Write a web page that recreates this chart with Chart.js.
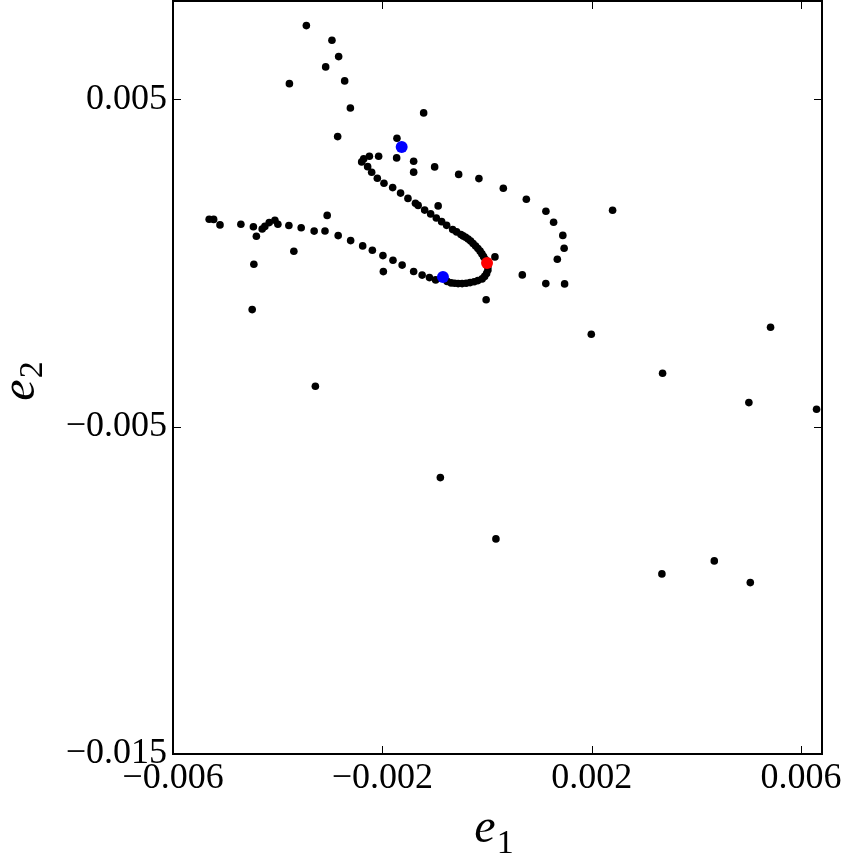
<!DOCTYPE html>
<html>
<head>
<meta charset="utf-8">
<script src="https://cdn.jsdelivr.net/npm/chart.js@4/dist/chart.umd.min.js"></script>
<style>
html,body{margin:0;padding:0;background:#fff;}
#wrap{width:844px;height:857px;}
</style>
</head>
<body>
<div id="wrap"><canvas id="c" width="844" height="857"></canvas></div>
<script>
// ---- data ----
const TRAJ_E1 = [
  -0.003452,-0.002963,-0.002835,-0.003083,-0.003776,-0.002720,-0.002611,-0.001211,-0.002854,-0.001721,
  -0.002071,-0.001727,-0.002248,-0.002357,-0.002395,-0.001402,-0.001402,-0.001001,-0.000542,-0.000155,
   0.000311, 0.000751, 0.001125, 0.001272, 0.001448, 0.001473, 0.001343, 0.002399, 0.000151, 0.000674,
   0.001123, 0.001482,-0.000017, 0.001992, 0.005417, 0.003354, 0.005003, 0.006296, 0.000170, 0.004342,
   0.003341, 0.005030,-0.003280,-0.000892,-0.000934,
  -0.002281,-0.002204,-0.002096,-0.001969,-0.001803,-0.001652,-0.001511,-0.001368,-0.001316,-0.001192,
  -0.001077,-0.000969,-0.000867,-0.000772,-0.000657,-0.000581,-0.000499,-0.000457,-0.000409,-0.000361,
  -0.000313,-0.000266,-0.000218,-0.000174,-0.000132,-0.000097,-0.000065,-0.000031,
   0.000017, 0.000017,-0.000008,-0.000046,-0.000094,-0.000174,-0.000246,-0.000323,-0.000399,-0.000476,
  -0.000552,-0.000619,-0.000686,-0.000762,
  -0.000982,-0.001100,-0.001240,-0.001402,-0.001622,-0.001797,-0.001989,-0.001981,-0.002191,-0.002376,
  -0.002606,-0.002844,-0.003054,-0.003096,-0.003303,-0.003551,-0.003786,-0.003691,-0.003996,-0.004053,
  -0.004162,-0.004245,-0.004296,-0.004464,-0.004407,-0.004455,-0.004487,-0.004703,-0.005102,-0.005223,
  -0.005309
];
const TRAJ_E2 = [
   0.007248, 0.006802, 0.006301, 0.005987, 0.005476, 0.005559, 0.004734, 0.004582, 0.003858, 0.003809,
   0.003259, 0.003207, 0.003259, 0.003177, 0.003085, 0.003106, 0.002773, 0.002932, 0.002703, 0.002575,
   0.002282, 0.001946, 0.001579, 0.001243, 0.000840, 0.000449, 0.000113, 0.001610, 0.000183,-0.000366,
  -0.000632,-0.000641,-0.001124,-0.002178,-0.001964,-0.003369,-0.004267,-0.004468,-0.008430,-0.009102,
  -0.009499,-0.009765,-0.003766,-0.006558, 0.001741,
   0.002941, 0.002770, 0.002587, 0.002434, 0.002300, 0.002132, 0.001970, 0.001823, 0.001756, 0.001613,
   0.001497, 0.001374, 0.001261, 0.001148, 0.001017, 0.000947, 0.000870, 0.000825, 0.000785, 0.000727,
   0.000666, 0.000590, 0.000513, 0.000437, 0.000360, 0.000275, 0.000192, 0.000101,
  -0.000107,-0.000214,-0.000321,-0.000412,-0.000489,-0.000541,-0.000574,-0.000602,-0.000620,-0.000632,
  -0.000632,-0.000623,-0.000611,-0.000565,
  -0.000519,-0.000449,-0.000373,-0.000260,-0.000067, 0.000082, 0.000223,-0.000266, 0.000388, 0.000519,
   0.000681, 0.000834, 0.001451, 0.000977, 0.000971, 0.001075, 0.001145, 0.000357, 0.001182, 0.001304,
   0.001231, 0.001115, 0.001038, 0.001106, 0.000816,-0.000040,-0.001426, 0.001182, 0.001161, 0.001329,
   0.001335
];
const BLUE_E1 = [-0.001631, -0.000842];
const BLUE_E2 = [ 0.003543, -0.000428];
const RED_E1 = [0.0];
const RED_E2 = [0.0];

const X_TICKS = [-0.006, -0.002, 0.002, 0.006];
const X_TICK_LABELS = ['\u22120.006', '\u22120.002', '0.002', '0.006'];
const Y_TICKS = [-0.015, -0.005, 0.005];
const Y_TICK_LABELS = ['\u22120.015', '\u22120.005', '0.005'];
const X_RANGE = [-0.006, 0.0064];
const Y_RANGE = [-0.015, 0.008];
const X_TITLE = ['e', '1'];
const Y_TITLE = ['e', '2'];

// ---- helpers ----
const pts = (xs, ys) => xs.map((x, i) => ({x: x, y: ys[i]}));
const FONT = '"Liberation Serif", "Times New Roman", serif';

const framePlugin = {
  id: 'frame',
  afterDatasetsDraw(chart) {
    const ctx = chart.ctx, ca = chart.chartArea;
    const xs = chart.scales.x, ys = chart.scales.y;
    ctx.save();
    ctx.strokeStyle = '#000';
    ctx.lineWidth = 1;
    const L = 8;
    ctx.beginPath();
    X_TICKS.forEach(v => {
      const p = Math.round(xs.getPixelForValue(v)) + 0.5;
      ctx.moveTo(p, ca.bottom); ctx.lineTo(p, ca.bottom - L);
      ctx.moveTo(p, ca.top); ctx.lineTo(p, ca.top + L);
    });
    Y_TICKS.forEach(v => {
      const p = Math.round(ys.getPixelForValue(v)) + 0.5;
      ctx.moveTo(ca.left, p); ctx.lineTo(ca.left + L, p);
      ctx.moveTo(ca.right, p); ctx.lineTo(ca.right - L, p);
    });
    ctx.stroke();
    ctx.lineWidth = 2;
    ctx.strokeRect(ca.left, ca.top, ca.right - ca.left, ca.bottom - ca.top);
    ctx.restore();
  }
};

const titlePlugin = {
  id: 'axisTitles',
  afterDraw(chart) {
    const ctx = chart.ctx, ca = chart.chartArea;
    ctx.save();
    ctx.fillStyle = '#000';
    ctx.textBaseline = 'alphabetic';
    ctx.textAlign = 'left';
    const mainFont = 'italic 48px ' + FONT;
    const subFont = '34px ' + FONT;
    // x title
    ctx.font = mainFont;
    const we = ctx.measureText(X_TITLE[0]).width;
    ctx.font = subFont;
    const ws = ctx.measureText(X_TITLE[1]).width;
    const cx = (ca.left + ca.right) / 2;
    const x0 = cx - (we + ws) / 2 - 4;
    ctx.font = mainFont; ctx.fillText(X_TITLE[0], x0, 842);
    ctx.font = subFont; ctx.fillText(X_TITLE[1], x0 + we + 1, 853);
    // y title (rotated)
    const cy = (ca.top + ca.bottom) / 2 + 4;
    ctx.translate(34, cy);
    ctx.rotate(-Math.PI / 2);
    const x1 = -(we + ws) / 2;
    ctx.font = mainFont; ctx.fillText(Y_TITLE[0], x1, 0);
    ctx.font = subFont; ctx.fillText(Y_TITLE[1], x1 + we + 1, 8);
    ctx.restore();
  }
};

new Chart(document.getElementById('c'), {
  type: 'scatter',
  data: {
    datasets: [
      { label: 'trajectory', data: pts(TRAJ_E1, TRAJ_E2), order: 3,
        backgroundColor: '#000', borderColor: '#000', borderWidth: 0,
        pointRadius: 3.8, pointHoverRadius: 3.8 },
      { label: 'blue', data: pts(BLUE_E1, BLUE_E2), order: 1,
        backgroundColor: '#0000ff', borderColor: '#0000ff', borderWidth: 0,
        pointRadius: 6, pointHoverRadius: 6 },
      { label: 'red', data: pts(RED_E1, RED_E2), order: 1,
        backgroundColor: '#ff0000', borderColor: '#ff0000', borderWidth: 0,
        pointRadius: 6, pointHoverRadius: 6 }
    ]
  },
  options: {
    responsive: false,
    animation: false,
    devicePixelRatio: 1,
    layout: { autoPadding: false, padding: { left: 0, top: 1, right: 22, bottom: 0 } },
    plugins: { legend: { display: false }, tooltip: { enabled: false } },
    scales: {
      x: {
        type: 'linear', min: X_RANGE[0], max: X_RANGE[1],
        grid: { display: false, drawTicks: false },
        border: { display: false },
        afterBuildTicks: s => { s.ticks = X_TICKS.map(v => ({value: v})); },
        afterFit: s => { s.height = 103; s.paddingLeft = 0; s.paddingRight = 0; },
        ticks: {
          padding: 3, color: '#000', autoSkip: false, maxRotation: 0, minRotation: 0,
          font: { family: FONT, size: 36 },
          callback: (v) => X_TICK_LABELS[X_TICKS.findIndex(t => Math.abs(t - v) < 1e-9)]
        }
      },
      y: {
        type: 'linear', min: Y_RANGE[0], max: Y_RANGE[1],
        grid: { display: false, drawTicks: false },
        border: { display: false },
        afterBuildTicks: s => { s.ticks = Y_TICKS.map(v => ({value: v})); },
        afterFit: s => { s.width = 173; s.paddingTop = 0; s.paddingBottom = 0; },
        ticks: {
          padding: 6, color: '#000', autoSkip: false,
          font: { family: FONT, size: 36 },
          callback: (v) => Y_TICK_LABELS[Y_TICKS.findIndex(t => Math.abs(t - v) < 1e-9)]
        }
      }
    }
  },
  plugins: [framePlugin, titlePlugin]
});
</script>
</body>
</html>
